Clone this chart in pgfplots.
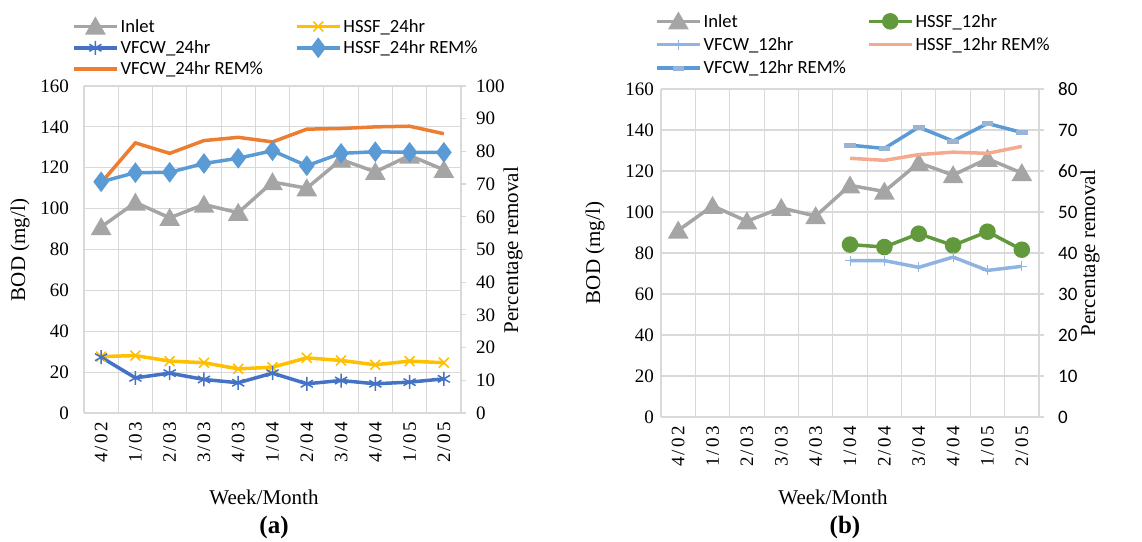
\documentclass[border=0pt]{standalone}
\usepackage{fontspec}
\setmainfont{Liberation Serif}
\newfontfamily\calfont{Carlito}
\newfontfamily\tickfont[LetterSpace=12]{Liberation Serif}
\usepackage{pgfplots}
\pgfplotsset{compat=1.18}
\definecolor{gridc}{HTML}{D9D9D9}
\definecolor{inletc}{HTML}{A5A5A5}
\definecolor{goldc}{HTML}{FFC000}
\definecolor{dbluec}{HTML}{4472C4}
\definecolor{mbluec}{HTML}{5B9BD5}
\definecolor{orangec}{HTML}{ED7D31}
\definecolor{greenc}{RGB}{98,153,60}
\definecolor{lbluec}{RGB}{143,180,226}
\definecolor{salmonc}{RGB}{244,170,140}
\definecolor{markfc}{RGB}{160,180,205}
\newcommand\tf{\fontsize{19}{22}\selectfont}
\newcommand\lf{\fontsize{21}{24}\selectfont}
\newcommand\cf{\fontsize{25}{28}\selectfont}
\pgfplotsset{
  base/.style={scale only axis, xmin=-0.5, xmax=10.5, ymin=0,
    axis line style={draw=gridc, line width=1.5pt},
    tick style={draw=gridc, line width=1.2pt},
    /pgf/number format/assume math mode=true,
    legend image code/.code={\draw[mark repeat=2,mark phase=2,##1] plot coordinates {(0pt,0pt) (21.5pt,0pt) (43pt,0pt)};},
  },
  leftax/.style={base, axis y line*=left, axis x line*=bottom,
    xtick={0,...,10}, xticklabels={4/02,1/03,2/03,3/03,4/03,1/04,2/04,3/04,4/04,1/05,2/05},
    minor xtick={0.5,1.5,...,9.5}, xminorgrids=true, ymajorgrids=true,
    grid style={draw=gridc, line width=1.1pt}, minor grid style={draw=gridc, line width=1.1pt},
    major tick length=0pt, minor tick length=0pt,
    ymax=160, ytick={0,20,...,160},
    xticklabel style={rotate=90, anchor=east, inner sep=0pt, font=\tickfont\tf},
    xticklabel shift=9pt,
    yticklabel style={inner sep=0pt, font=\tf}},
  rightax/.style={base, axis y line*=right, axis x line=none,
    tick align=outside, major tick length=5pt,
    yticklabel style={inner sep=0pt}},
  leg/.style={legend columns=2, legend cell align=left,
    legend style={draw=none, fill=none, font=\calfont\fontsize{18.6}{22}\selectfont,
      anchor=north west, inner sep=0pt,
      /tikz/every even column/.append style={column sep=#1}}},
  inletst/.style={color=inletc, line width=3.5pt, mark=triangle*, mark size=8.5pt, mark options={yshift=-2.1pt}},
  hssfst/.style={color=goldc, line width=3.5pt, mark=x, mark size=7pt, mark options={line width=1.6pt}},
  vfcwst/.style={color=dbluec, line width=3.5pt, mark=asterisk, mark size=7pt, mark options={line width=1.5pt}},
  hremst/.style={color=mbluec, line width=3.5pt, mark=diamond*, mark size=7.5pt},
  vremst/.style={color=orangec, line width=3.5pt, mark=none},
  hssf12st/.style={color=greenc, line width=3.5pt, mark=*, mark size=6.5pt},
  vfcw12st/.style={color=lbluec, line width=3.5pt, mark=+, mark size=5pt, mark options={line width=1pt}},
  hrem12st/.style={color=salmonc, line width=3.5pt, mark=none},
  vrem12st/.style={color=mbluec, line width=3.5pt, mark=square*, mark size=3.5pt,
    mark options={xscale=1.5, yscale=0.55, fill=markfc, draw=lbluec, line width=0.8pt}},
}
\begin{document}
\begin{tikzpicture}
\useasboundingbox (0pt,0pt) rectangle (1142pt,541pt);
% ---------------- (a) ----------------
\begin{axis}[leftax, at={(84pt,128pt)}, anchor=south west, width=377pt, height=327pt, yticklabel shift=15pt]
\addplot[inletst] coordinates {(0,91) (1,103) (2,95.5) (3,102) (4,98) (5,113) (6,110) (7,124) (8,118) (9,126) (10,119)};
\addplot[hssfst] coordinates {(0,27.6) (1,28.1) (2,25.4) (3,24.6) (4,21.6) (5,22.4) (6,27.0) (7,25.7) (8,23.6) (9,25.4) (10,24.6)};
\addplot[vfcwst] coordinates {(0,27.3) (1,17.2) (2,19.5) (3,16.4) (4,14.8) (5,19.5) (6,14.3) (7,15.9) (8,14.3) (9,15.1) (10,16.7)};
\end{axis}
\begin{axis}[rightax, leg=30pt, at={(84pt,128pt)}, anchor=south west, width=377pt, height=327pt,
  ymax=100, ytick={0,10,...,100}, yticklabel style={font=\tf}, yticklabel shift=10pt,
  legend style={at={(-0.032,1.211)}, row sep=3pt}]
\addlegendimage{inletst}\addlegendentry{Inlet}
\addlegendimage{hssfst}\addlegendentry{HSSF\_24hr}
\addlegendimage{vfcwst}\addlegendentry{VFCW\_24hr}
\addplot[hremst] coordinates {(0,70.7) (1,73.5) (2,73.6) (3,76.3) (4,77.9) (5,80.2) (6,75.6) (7,79.4) (8,79.9) (9,79.7) (10,79.7)};
\addlegendentry{HSSF\_24hr REM\%}
\addplot[vremst] coordinates {(0,70.4) (1,82.6) (2,79.4) (3,83.3) (4,84.3) (5,82.9) (6,86.8) (7,87.0) (8,87.5) (9,87.7) (10,85.4)};
\addlegendentry{VFCW\_24hr REM\%}
\end{axis}
% ---------------- (b) ----------------
\begin{axis}[leftax, at={(661pt,124pt)}, anchor=south west, width=378pt, height=328pt, yticklabel shift=7pt]
\addplot[inletst] coordinates {(0,91) (1,103) (2,95.5) (3,102) (4,98) (5,113) (6,110) (7,124) (8,118) (9,126) (10,119)};
\addplot[hssf12st] coordinates {(5,84.1) (6,82.9) (7,89.4) (8,83.7) (9,90.4) (10,81.6)};
\addplot[vfcw12st] coordinates {(5,76.3) (6,76.3) (7,73.0) (8,78.0) (9,71.5) (10,73.5)};
\end{axis}
\begin{axis}[rightax, leg=19pt, at={(661pt,124pt)}, anchor=south west, width=378pt, height=328pt,
  ymax=80, ytick={0,10,...,80}, yticklabel style={font=\calfont\tf}, yticklabel shift=14pt,
  legend style={at={(-0.016,1.235)}, row sep=5pt}]
\addlegendimage{inletst}\addlegendentry{Inlet}
\addlegendimage{hssf12st}\addlegendentry{HSSF\_12hr}
\addlegendimage{vfcw12st}\addlegendentry{VFCW\_12hr}
\addplot[hrem12st] coordinates {(5,63.1) (6,62.6) (7,64.0) (8,64.6) (9,64.3) (10,66.0)};
\addlegendentry{HSSF\_12hr REM\%}
\addplot[vrem12st] coordinates {(5,66.3) (6,65.5) (7,70.7) (8,67.3) (9,71.6) (10,69.4)};
\addlegendentry{VFCW\_12hr REM\%}
\end{axis}
% ---------------- labels ----------------
\node[rotate=90, font=\lf] at (20pt,291pt) {BOD (mg/l)};
\node[rotate=90, font=\lf] at (513pt,291pt) {Percentage removal};
\node[font=\lf] at (264pt,44pt) {Week/Month};
\node[font=\cf\bfseries] at (274pt,14pt) {(a)};
\node[rotate=90, font=\lf] at (595pt,288pt) {BOD (mg/l)};
\node[rotate=90, font=\lf] at (1090pt,288pt) {Percentage removal};
\node[font=\lf] at (833pt,44pt) {Week/Month};
\node[font=\cf\bfseries] at (845pt,14pt) {(b)};
\end{tikzpicture}
\end{document}
